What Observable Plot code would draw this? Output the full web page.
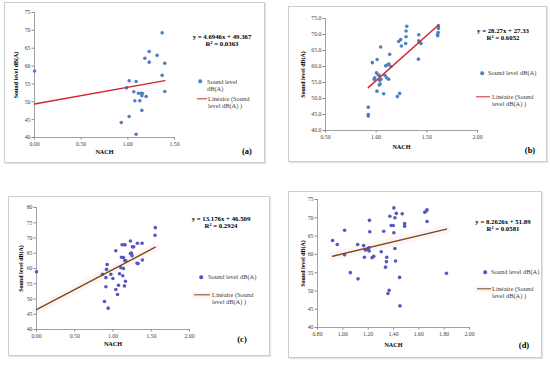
<!DOCTYPE html>
<html><head><meta charset="utf-8">
<script src="https://cdn.jsdelivr.net/npm/d3@7"></script>
<script src="https://cdn.jsdelivr.net/npm/@observablehq/plot@0.6"></script>
<style>
body{margin:0;background:#fff;}
#root{position:relative;width:550px;height:366px;overflow:hidden;font-family:"Liberation Serif","Times New Roman",serif;}
.frame{position:absolute;border:1px solid #cdcdcd;box-sizing:border-box;pointer-events:none;box-shadow:1px 1px 1px #e4e4e4;}
.chart{position:absolute;}
.chart svg{overflow:visible;}
.t{position:absolute;white-space:nowrap;transform:translateY(-50%);line-height:1;}
.c{transform:translate(-50%,-50%);}
.eq{font-weight:bold;font-size:6.8px;color:#000;}
.lg{font-size:6.4px;color:#404040;}
.tag{font-weight:bold;font-size:8.5px;color:#000;}
.dot{position:absolute;width:3.6px;height:3.6px;border-radius:50%;transform:translate(-50%,-50%);}
.ln{position:absolute;height:1.4px;transform:translateY(-50%);}
</style></head>
<body><div id="root"></div>
<script>
// ---- data ----
const aX = [0, 0.93, 0.986, 1.014, 1.014, 1.064, 1.075, 1.089, 1.089, 1.114, 1.129, 1.143, 1.15, 1.157, 1.15, 1.182, 1.196, 1.229, 1.229, 1.314, 1.368, 1.368, 1.396, 1.396];
const aY = [58.6, 44.2, 53.9, 55.9, 45.9, 52.8, 50.3, 55.7, 40.9, 52.4, 50.3, 52.4, 51.7, 52.3, 47.6, 62.2, 51.5, 64.1, 61.1, 63.0, 69.3, 57.4, 60.8, 52.9];

const bX = [0.922, 0.922, 0.922, 0.962, 0.98, 0.986, 1.003, 1.01, 1.008, 1.02, 1.03, 1.03, 1.04, 1.044, 1.047, 1.034, 1.074, 1.087, 1.094, 1.104, 1.113, 1.126, 1.123, 1.133, 1.146, 1.209, 1.232, 1.222, 1.242, 1.249, 1.291, 1.295, 1.295, 1.302, 1.417, 1.42, 1.42, 1.43, 1.443, 1.605, 1.608, 1.612, 1.615, 1.615];
const bY = [47.3, 45.0, 44.5, 61.2, 56.0, 56.5, 58.0, 62.2, 52.3, 57.4, 57.2, 54.2, 54.5, 66.1, 56.0, 55.6, 51.5, 57.2, 60.2, 56.5, 60.5, 60.8, 56.0, 63.8, 60.0, 50.6, 51.6, 67.8, 68.4, 66.4, 67.2, 69.3, 71.1, 72.6, 62.3, 69.9, 68.0, 67.6, 67.2, 70.0, 69.6, 70.6, 71.9, 72.7];

const cX = [0, 0.889, 0.907, 0.907, 0.915, 0.924, 0.863, 0.937, 0.972, 0.998, 1.037, 1.037, 1.059, 1.072, 1.085, 1.102, 1.111, 1.119, 1.137, 1.137, 1.145, 1.154, 1.158, 1.128, 1.15, 1.163, 1.167, 1.228, 1.228, 1.241, 1.249, 1.254, 1.271, 1.315, 1.328, 1.319, 1.38, 1.384, 1.549, 1.553];
const cY = [58.9, 49.2, 54.0, 57.0, 59.7, 61.3, 58.1, 47.0, 58.1, 56.7, 65.8, 53.1, 51.5, 54.5, 58.3, 60.3, 63.7, 67.8, 63.6, 60.0, 67.8, 62.6, 67.8, 57.6, 54.3, 55.8, 62.5, 69.0, 64.9, 65.1, 64.2, 67.1, 67.1, 61.7, 61.6, 68.3, 68.3, 62.8, 70.9, 73.4];

const dX = [0.919, 0.956, 1.014, 1.014, 1.059, 1.117, 1.12, 1.164, 1.17, 1.178, 1.196, 1.207, 1.207, 1.21, 1.213, 1.231, 1.244, 1.303, 1.323, 1.337, 1.344, 1.347, 1.356, 1.366, 1.371, 1.382, 1.398, 1.403, 1.403, 1.411, 1.411, 1.416, 1.422, 1.448, 1.451, 1.469, 1.488, 1.488, 1.647, 1.66, 1.665, 1.665, 1.818];
const dY = [63.8, 62.7, 66.6, 59.9, 55.0, 62.7, 53.3, 62.4, 59.2, 61.2, 61.4, 61.8, 60.9, 69.3, 66.2, 59.1, 59.5, 60.7, 66.3, 56.5, 58.0, 59.2, 49.3, 50.2, 70.4, 67.9, 67.9, 65.9, 72.7, 70.0, 61.6, 58.2, 71.2, 53.7, 45.9, 71.1, 68.4, 67.7, 71.5, 71.9, 72.2, 69.0, 54.8];

// trendline equations as printed on the chart
const slopes = [4.6946, 28.27, 13.176, 8.2626];
const intercepts = [49.367, 27.33, 46.509, 51.89];
const rSquared = ["0.0363", "0.6052", "0.2924", "0.0581"];
const eqTexts = ["y = 4.6946x + 49.367", "y = 28.27x + 27.33", "y = 13.176x + 46.509", "y = 8.2626x + 51.89"];
const panelTags = ["(a)", "(b)", "(c)", "(d)"];

// axis ticks
const aXTicks = [0, 0.5, 1.0, 1.5], aYTicks = [40, 45, 50, 55, 60, 65, 70, 75];
const bXTicks = [0.5, 1.0, 1.5, 2.0], bYTicks = [40, 45, 50, 55, 60, 65, 70, 75];
const cXTicks = [0, 0.5, 1.0, 1.5, 2.0], cYTicks = [40, 45, 50, 55, 60, 65, 70, 75, 80];
const dXTicks = [0.8, 1.0, 1.2, 1.4, 1.6, 1.8, 2.0], dYTicks = [40, 45, 50, 55, 60, 65, 70, 75];

const seriesName = "Sound level dB(A)";
const xTitle = "NACH";

const blue = "#4F81BD", purple = "#5558C0", red = "#D22433", brown = "#7A4A12";

const panels = [
  {X:aX, Y:aY, xt:aXTicks, yt:aYTicks, yfmt:d=>d.toFixed(0), box:[4,2,261,161], m:[10,91,26,30], ydx:-18, xdy:15,
   dot:blue, line:red, glow:null,
   eq:[222,37,43.5], leg:{dot:[200,81], txt:[207,["Sound level","dB(A)"],82], ln:[197,207,98.5], ltxt:[208,98.5]}, tag:[247,151]},
  {X:bX, Y:bY, xt:bXTicks, yt:bYTicks, yfmt:d=>d.toFixed(1), box:[288,6,259,156], m:[12,70,32,37], ydx:-22, xdy:17,
   dot:blue, line:red, glow:null,
   eq:[503,31,38], leg:{dot:[482,73], txt:[488,["Sound level dB(A)"],73], ln:[476,490,97], ltxt:[492,97]}, tag:[530,150]},
  {X:cX, Y:cY, xt:cXTicks, yt:cYTicks, yfmt:d=>d.toFixed(0), box:[8,196,262,160], m:[11,81,27,28], ydx:-15, xdy:15,
   dot:purple, line:brown, glow:"#f9dce6",
   eq:[221,219,226], leg:{dot:[201,277], txt:[208,["Sound level dB(A)"],277], ln:[194,210,295], ltxt:[212,295]}, tag:[242,339]},
  {X:dX, Y:dY, xt:dXTicks, yt:dYTicks, yfmt:d=>d.toFixed(0), box:[288,191,254,167], m:[8,73,31,29], ydx:-14, xdy:18,
   dot:purple, line:brown, glow:"#f9dce6",
   eq:[503,222,229], leg:{dot:[485,272], txt:[491,["Sound level dB(A)"],272], ln:[477,491,289], ltxt:[492,289]}, tag:[524,345]}
];

const root = document.getElementById("root");
function addText(cls, html, x, y, style) {
  const d = document.createElement("div");
  d.className = "t " + cls;
  d.innerHTML = html;
  d.style.left = x + "px"; d.style.top = y + "px";
  if (style) Object.assign(d.style, style);
  root.appendChild(d);
  return d;
}

panels.forEach((p, i) => {
  const pts = p.X.map((x, k) => ({x, y: p.Y[k]}));
  const xmin = d3.min(p.X), xmax = d3.max(p.X);
  const trend = [xmin, xmax].map(x => ({x, y: slopes[i] * x + intercepts[i]}));
  const xDom = [p.xt[0], p.xt[p.xt.length - 1]];
  const yDom = [p.yt[0], p.yt[p.yt.length - 1]];
  const [L, T, W, H] = p.box;
  const marks = [];
  if (p.glow) marks.push(Plot.line(trend, {x: "x", y: "y", stroke: p.glow, strokeWidth: 9, strokeOpacity: 0.3}));
  marks.push(
    Plot.ruleX([xDom[0]], {stroke: "#8c8c8c", strokeWidth: 0.8}),
    Plot.ruleY([yDom[0]], {stroke: "#8c8c8c", strokeWidth: 0.8}),
    Plot.axisY({ticks: p.yt, tickFormat: p.yfmt, tickSize: 2.5, tickPadding: 1.5, stroke: "#8c8c8c", fill: "#404040", label: null}),
    Plot.axisX({ticks: p.xt, tickFormat: d => d.toFixed(2), tickSize: 2.5, tickPadding: 2, stroke: "#8c8c8c", fill: "#404040", label: null}),
    Plot.dot(pts, {x: "x", y: "y", r: 1.8, fill: p.dot, stroke: "none"}),
    Plot.line(trend, {x: "x", y: "y", stroke: p.line, strokeWidth: 1.4}),
    Plot.text([seriesName], {frameAnchor: "left", rotate: -90, dx: p.ydx, textAnchor: "middle", lineAnchor: "middle", fontWeight: "bold", fill: "#000", fontSize: 6}),
    Plot.text([xTitle], {frameAnchor: "bottom", dy: p.xdy, textAnchor: "middle", lineAnchor: "middle", fontWeight: "bold", fill: "#000", fontSize: 6.2})
  );
  const chart = Plot.plot({
    width: W, height: H,
    marginTop: p.m[0], marginRight: p.m[1], marginBottom: p.m[2], marginLeft: p.m[3],
    x: {domain: xDom}, y: {domain: yDom},
    style: {fontFamily: "'Liberation Serif', 'Times New Roman', serif", fontSize: "5.8px", background: "transparent"},
    marks
  });
  const wrap = document.createElement("div");
  wrap.className = "chart";
  wrap.style.left = L + "px"; wrap.style.top = T + "px";
  wrap.appendChild(chart);
  root.appendChild(wrap);
  const fr = document.createElement("div");
  fr.className = "frame";
  Object.assign(fr.style, {left: L + "px", top: T + "px", width: W + "px", height: H + "px"});
  root.appendChild(fr);

  // equation
  addText("eq c", eqTexts[i], p.eq[0], p.eq[1]);
  addText("eq c", "R² = " + rSquared[i], p.eq[0], p.eq[2]);
  // legend
  const dt = document.createElement("div");
  dt.className = "dot";
  Object.assign(dt.style, {left: p.leg.dot[0] + "px", top: p.leg.dot[1] + "px", background: p.dot});
  root.appendChild(dt);
  p.leg.txt[1].forEach((s, k) => addText("lg", s, p.leg.txt[0], p.leg.txt[2] + k * 7));
  if (p.glow) {
    const g = document.createElement("div");
    g.className = "ln";
    Object.assign(g.style, {left: (p.leg.ln[0] - 3) + "px", top: p.leg.ln[2] + "px", width: (p.leg.ln[1] - p.leg.ln[0] + 6) + "px", height: "6px", background: p.glow, opacity: 0.3});
    root.appendChild(g);
  }
  const ln = document.createElement("div");
  ln.className = "ln";
  Object.assign(ln.style, {left: p.leg.ln[0] + "px", top: p.leg.ln[2] + "px", width: (p.leg.ln[1] - p.leg.ln[0]) + "px", background: p.line});
  root.appendChild(ln);
  addText("lg", "Linéaire (Sound", p.leg.ltxt[0], p.leg.ltxt[1]);
  addText("lg", "level dB(A) )", p.leg.ltxt[0], p.leg.ltxt[1] + 7);
  addText("tag c", panelTags[i], p.tag[0], p.tag[1]);
});
</script>
</body></html>
